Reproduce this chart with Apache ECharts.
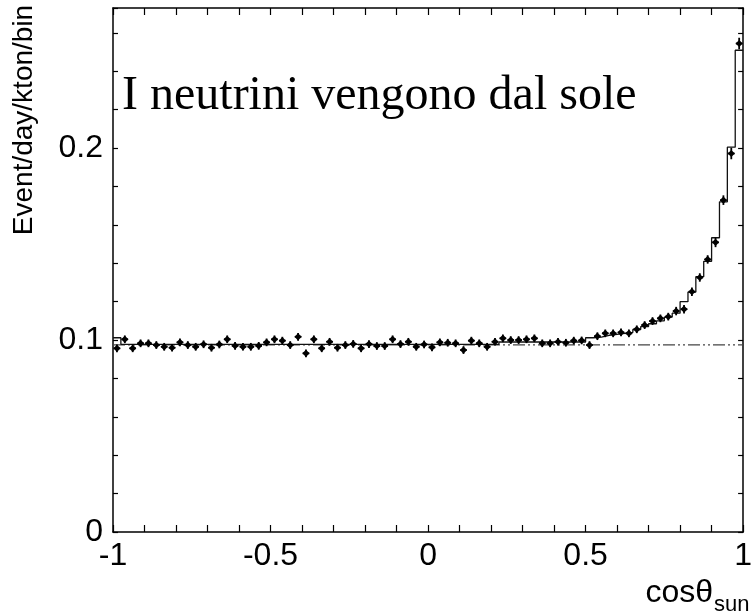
<!DOCTYPE html>
<html><head><meta charset="utf-8">
<script src="https://cdn.jsdelivr.net/npm/echarts@6/dist/echarts.min.js"></script>
<style>html,body{margin:0;padding:0;background:#fff}#c{width:755px;height:614px}</style>
</head><body><div id="c"></div>
<script>
// ---- data ----
const binLow = -1;
const binWidth = 0.025;
const xTickValues = [-1, -0.5, 0, 0.5, 1];
const yTickValues = [0, 0.1, 0.2];
// measured points (bin centres -0.9875 ... 0.9875)
const dataValues = [
  0.0957, 0.1004, 0.0957, 0.0983, 0.0983, 0.0974, 0.0965, 0.0960, 0.0988, 0.0974,
  0.0965, 0.0978, 0.0960, 0.0977, 0.1004, 0.0970, 0.0965, 0.0965, 0.0970, 0.0988,
  0.1004, 0.0997, 0.0974, 0.1017, 0.0931, 0.1004, 0.0957, 0.0991, 0.0960, 0.0974,
  0.0980, 0.0957, 0.0979, 0.0969, 0.0969, 0.1004, 0.0979, 0.0991, 0.0965, 0.0977,
  0.0962, 0.0988, 0.0986, 0.0983, 0.0948, 0.0997, 0.0983, 0.0965, 0.0991, 0.1009,
  0.1000, 0.1000, 0.1004, 0.1009, 0.0983, 0.0983, 0.0991, 0.0986, 0.0997, 0.0998,
  0.0974, 0.1020, 0.1035, 0.1035, 0.1040, 0.1035, 0.1056, 0.1078, 0.1099, 0.1113,
  0.1122, 0.1151, 0.1161, 0.1252, 0.1326, 0.1420, 0.1509, 0.1729, 0.1972, 0.2545
];
const dataErrors = [
  0.002, 0.002, 0.002, 0.002, 0.002, 0.002, 0.002, 0.002, 0.002, 0.002,
  0.002, 0.002, 0.002, 0.002, 0.002, 0.002, 0.002, 0.002, 0.002, 0.002,
  0.002, 0.002, 0.002, 0.002, 0.002, 0.002, 0.002, 0.002, 0.002, 0.002,
  0.002, 0.002, 0.002, 0.002, 0.002, 0.002, 0.002, 0.002, 0.002, 0.002,
  0.002, 0.002, 0.002, 0.002, 0.002, 0.002, 0.002, 0.002, 0.002, 0.002,
  0.002, 0.002, 0.002, 0.002, 0.002, 0.002, 0.002, 0.002, 0.002, 0.002,
  0.002, 0.002, 0.002, 0.002, 0.002, 0.002, 0.002, 0.002, 0.002, 0.002,
  0.002, 0.0022, 0.0022, 0.0022, 0.0022, 0.0022, 0.0025, 0.0025, 0.003, 0.003
];
// expected (MC) histogram per bin
const mcValues = [
  0.1012, 0.0978, 0.0978, 0.0978, 0.0978, 0.0978, 0.0978, 0.0978, 0.0978, 0.0978,
  0.0978, 0.0978, 0.0978, 0.0978, 0.0978, 0.0978, 0.0978, 0.0978, 0.0978, 0.0978,
  0.0978, 0.0978, 0.0978, 0.0978, 0.0978, 0.0978, 0.0978, 0.0978, 0.0978, 0.0978,
  0.0978, 0.0978, 0.0978, 0.0978, 0.0978, 0.0978, 0.0978, 0.0978, 0.0978, 0.0978,
  0.0978, 0.0978, 0.0978, 0.0978, 0.0978, 0.0978, 0.0978, 0.0978, 0.0978, 0.0990,
  0.0990, 0.0990, 0.0990, 0.0990, 0.0990, 0.0990, 0.0990, 0.0990, 0.0990, 0.0990,
  0.1012, 0.1015, 0.1025, 0.1030, 0.1035, 0.1040, 0.1055, 0.1070, 0.1085, 0.1100,
  0.1120, 0.1140, 0.1200, 0.1250, 0.1330, 0.1410, 0.1533, 0.1720, 0.2005, 0.2510
];
const backgroundLevel = 0.0975;
const titleText = 'I neutrini vengono dal sole';
const yTitle = 'Event/day/kton/bin';

// ---- build ----
const histPoints = mcValues.map((v, i) => [binLow + i * binWidth, v]);
histPoints.push([binLow + mcValues.length * binWidth, mcValues[mcValues.length - 1]]);
const pointData = dataValues.map((v, i) => [binLow + (i + 0.5) * binWidth, v, dataErrors[i]]);

const labelFont = { fontFamily: 'Liberation Sans', fontSize: 32, color: '#000' };
function xAxisCfg(pos, showLabel) {
  return {
    type: 'value', position: pos, min: -1, max: 1, interval: 0.5,
    axisLine: { show: true, onZero: false, lineStyle: { color: '#000', width: 1.5 } },
    axisTick: { show: true, inside: true, length: 7, lineStyle: { color: '#000', width: 1.2 } },
    minorTick: { show: true, splitNumber: 5, length: 7, lineStyle: { color: '#000', width: 1.2 } },
    splitLine: { show: false },
    axisLabel: Object.assign({ show: showLabel, margin: 8,
      formatter: v => xTickValues.indexOf(v) >= 0 ? String(v) : '' }, labelFont)
  };
}
function yAxisCfg(pos, showLabel) {
  return {
    type: 'value', position: pos, min: 0, max: 0.273, interval: 0.1,
    axisLine: { show: true, onZero: false, lineStyle: { color: '#000', width: 1.5 } },
    axisTick: { show: true, inside: true, length: 5, lineStyle: { color: '#000', width: 1.2 } },
    minorTick: { show: true, splitNumber: 5, length: 5, lineStyle: { color: '#000', width: 1.2 } },
    splitLine: { show: false },
    axisLabel: Object.assign({ show: showLabel, margin: 10, showMaxLabel: false,
      formatter: v => yTickValues.indexOf(Math.round(v * 1000) / 1000) >= 0 ? String(Math.round(v * 1000) / 1000) : '' }, labelFont)
  };
}

const chart = echarts.init(document.getElementById('c'), null, { renderer: 'canvas' });
chart.setOption({
  animation: false,
  backgroundColor: '#fff',
  grid: { left: 113, right: 2, top: 8, bottom: 82, containLabel: false },
  xAxis: [xAxisCfg('bottom', true), xAxisCfg('top', false)],
  yAxis: [yAxisCfg('left', true), yAxisCfg('right', false)],
  series: [
    {
      type: 'line', xAxisIndex: 0, yAxisIndex: 0,
      data: [[binLow, backgroundLevel], [binLow + mcValues.length * binWidth, backgroundLevel]],
      symbol: 'none', silent: true, z: 1,
      lineStyle: { color: '#444', width: 1.2, type: [12, 3, 2, 3, 2, 3] }
    },
    {
      type: 'line', xAxisIndex: 0, yAxisIndex: 0, data: histPoints, step: 'end',
      symbol: 'none', silent: true, z: 2,
      lineStyle: { color: '#111', width: 1.3 }
    },
    {
      type: 'custom', xAxisIndex: 0, yAxisIndex: 0, data: pointData, z: 3,
      renderItem: function (params, api) {
        const x = api.value(0), y = api.value(1), e = api.value(2);
        const c = api.coord([x, y]);
        const t = api.coord([x, y + e]);
        const b = api.coord([x, y - e]);
        const hw = api.size([binWidth, 0])[0] * 0.42;
        const r = 3.6;
        return { type: 'group', children: [
          { type: 'line', shape: { x1: c[0], y1: t[1], x2: c[0], y2: b[1] }, style: { stroke: '#000', lineWidth: 1.8 } },
          { type: 'line', shape: { x1: c[0] - hw, y1: c[1], x2: c[0] + hw, y2: c[1] }, style: { stroke: '#000', lineWidth: 1.8 } },
          { type: 'polygon', shape: { points: [[c[0], c[1] - r], [c[0] + r, c[1]], [c[0], c[1] + r], [c[0] - r, c[1]]] }, style: { fill: '#000' } }
        ] };
      }
    }
  ],
  graphic: [
    { type: 'text', x: 122, y: 96, style: { text: titleText, font: '48px "Liberation Serif"', fill: '#000', textAlign: 'left', textVerticalAlign: 'middle' } },
    { type: 'text', x: 24, y: 120, rotation: Math.PI / 2, style: { text: yTitle, font: '28px "Liberation Sans"', fill: '#000', textAlign: 'center', textVerticalAlign: 'middle' } },
    { type: 'text', x: 713, y: 593, style: { text: 'cosθ', font: '32px "Liberation Sans"', fill: '#000', textAlign: 'right', textVerticalAlign: 'middle' } },
    { type: 'text', x: 714, y: 605, style: { text: 'sun', font: '22px "Liberation Sans"', fill: '#000', textAlign: 'left', textVerticalAlign: 'middle' } }
  ]
});
</script></body></html>
